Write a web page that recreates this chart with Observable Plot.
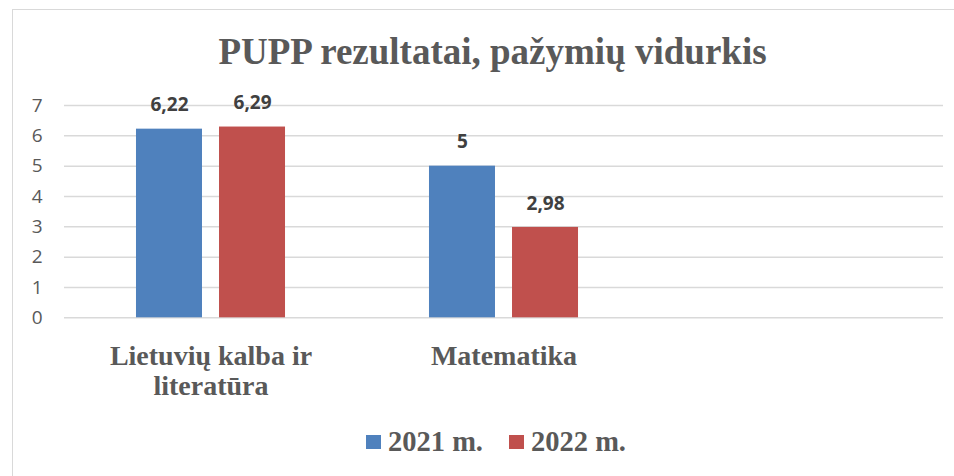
<!DOCTYPE html>
<html>
<head>
<meta charset="utf-8">
<script src="https://cdn.jsdelivr.net/npm/d3@7"></script>
<script src="https://cdn.jsdelivr.net/npm/@observablehq/plot@0.6"></script>
<style>
  html, body { margin: 0; padding: 0; background: #fff; }
  #wrap { position: relative; width: 954px; height: 476px; overflow: hidden; background: #fff; }
  #frame { position: absolute; left: 12px; top: 9px; width: 1000px; height: 500px;
           border-left: 1.5px solid #d9d9d9; border-top: 1.5px solid #d9d9d9; }
  #title { position: absolute; left: 12px; width: 961px; top: 33px; text-align: center;
           font-family: "Liberation Serif", "Times New Roman", serif; font-weight: bold;
           font-size: 37px; line-height: 37px; color: #595959; white-space: nowrap; }
  #chart { position: absolute; left: 0; top: 80px; }
  #legend { position: absolute; left: 366px; top: 428px; display: flex; align-items: center;
            font-family: "Liberation Serif", "Times New Roman", serif; font-weight: bold;
            font-size: 28.5px; line-height: 28.5px; color: #595959; white-space: nowrap; }
  .sw { display: inline-block; width: 15px; height: 14px; margin-right: 7px; }
  .item { display: flex; align-items: center; margin-right: 26px; }
</style>
</head>
<body>
<div id="wrap">
  <div id="frame"></div>
  <div id="title">PUPP rezultatai, pažymių vidurkis</div>
  <div id="chart"></div>
  <div id="legend"></div>
</div>
<script>
// Data
const categories = ["Lietuvių kalba ir literatūra", "Matematika", ""];
const categoryLabels = ["Lietuvių kalba ir\nliteratūra", "Matematika", ""];
const years = ["2021 m.", "2022 m."];
const values2021 = [6.22, 5, null];
const values2022 = [6.29, 2.98, null];
const yTicks = [0, 1, 2, 3, 4, 5, 6, 7];
const colors = ["#4f81bd", "#c0504d"];

const data = [];
categories.forEach((c, i) => {
  if (values2021[i] != null) data.push({category: c, year: years[0], value: values2021[i]});
  if (values2022[i] != null) data.push({category: c, year: years[1], value: values2022[i]});
});
// gridlines repeated in every category slot (including the empty third one)
const grid = categories.flatMap(c => yTicks.map(t => ({category: c, tick: t})));

const fmt = v => String(v).replace(".", ",");
const labelOf = c => categoryLabels[categories.indexOf(c)];

const chart = Plot.plot({
  width: 954,
  height: 330,
  marginTop: 25,
  marginBottom: 92.7,
  marginLeft: 64,
  marginRight: 11,
  style: {background: "transparent", color: "#595959", overflow: "visible"},
  fx: {domain: categories, padding: 0, round: false, label: null},
  x: {domain: years, paddingInner: 0.205, paddingOuter: 0.867, round: false, axis: null},
  y: {domain: [0, 7], label: null},
  color: {domain: years, range: colors},
  marks: [
    Plot.ruleY(grid, {fx: "category", y: "tick", stroke: "#d9d9d9", strokeWidth: 1.5}),
    Plot.axisY(yTicks, {
      tickSize: 0, tickPadding: 22, label: null, color: "#595959",
      fontFamily: "'Open Sans', 'Liberation Sans', sans-serif", fontSize: 19
    }),
    Plot.axisFx({
      anchor: "bottom", tickSize: 0, tickPadding: 25, label: null, color: "#595959",
      tickFormat: labelOf, lineHeight: 1.1,
      fontFamily: "'Liberation Serif', 'Times New Roman', serif", fontSize: 28, fontWeight: "bold"
    }),
    Plot.barY(data, {fx: "category", x: "year", y: "value", fill: "year"}),
    Plot.text(data, {
      fx: "category", x: "year", y: "value", text: d => fmt(d.value),
      dy: -24, lineAnchor: "middle", fill: "#404040",
      fontFamily: "'Open Sans', 'Liberation Sans', sans-serif", fontSize: 19, fontWeight: "bold"
    })
  ]
});
document.getElementById("chart").appendChild(chart);

// Legend
const legend = document.getElementById("legend");
years.forEach((y, i) => {
  const item = document.createElement("span");
  item.className = "item";
  const sw = document.createElement("span");
  sw.className = "sw";
  sw.style.background = colors[i];
  item.appendChild(sw);
  item.appendChild(document.createTextNode(y));
  legend.appendChild(item);
});
</script>
</body>
</html>
